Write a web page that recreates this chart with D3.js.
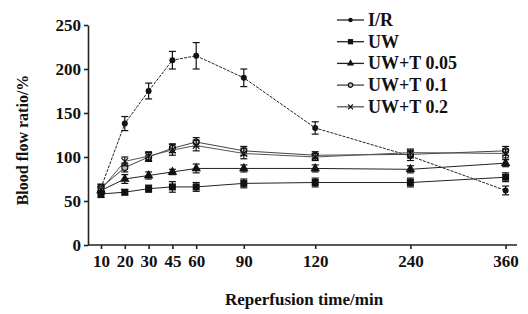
<!DOCTYPE html>
<html>
<head>
<meta charset="utf-8">
<script src="https://cdn.jsdelivr.net/npm/d3@7"></script>
<style>
  body { margin: 0; background: #fff; }
  svg { display: block; }
  text { font-family: "Liberation Serif", "Times New Roman", serif; font-weight: bold; fill: #111; }
</style>
</head>
<body>
<div id="chart-area"></div>
<script>
// Datos
var times = [10, 20, 30, 45, 60, 90, 120, 240, 360];
// posición relativa de cada tiempo en el eje (el eje no es lineal)
var slots = [0, 1, 2, 3, 4, 6, 9, 13, 17];
var yTicks = [0, 50, 100, 150, 200, 250];

var seriesNames = ["I/R", "UW", "UW+T 0.05", "UW+T 0.1", "UW+T 0.2"];
var irValues  = [65, 138, 175, 210, 215, 190, 133, 101, 62];
var irErr     = [4, 8, 9, 10, 15, 10, 7, 5, 5];
var uwValues  = [58, 60, 64, 66, 66, 70, 71, 71, 77];
var uwErr     = [4, 3, 4, 6, 5, 5, 5, 5, 5];
var t05Values = [62, 75, 79, 83, 87, 87, 87, 86, 93];
var t05Err    = [4, 5, 4, 3, 5, 4, 4, 4, 4];
var t01Values = [65, 88, 100, 110, 117, 107, 102, 103, 107];
var t01Err    = [4, 5, 5, 5, 5, 5, 4, 4, 5];
var t02Values = [63, 95, 101, 108, 113, 104, 100, 105, 104];
var t02Err    = [4, 5, 5, 6, 6, 6, 4, 4, 5];

var W = 528, H = 314;
var x0 = 101, unit = 23.8;

var svg = d3.select("#chart-area").append("svg")
    .attr("width", W).attr("height", H);

// Escala x por tramos
var x = d3.scaleLinear()
    .domain(times)
    .range(slots.map(function(s) { return x0 + s * unit; }));

var y = d3.scaleLinear().domain([0, 250]).range([245, 25]);

// Eje Y
var gy = svg.append("g")
    .attr("transform", "translate(88,0)")
    .call(d3.axisLeft(y).tickValues(yTicks).tickSize(4).tickSizeOuter(0).tickPadding(3));
gy.selectAll("text").style("font-size", "17px");

// Eje X
var gx = svg.append("g")
    .attr("transform", "translate(0,245)")
    .call(d3.axisBottom(x).tickValues(times).tickSize(4).tickSizeOuter(0).tickPadding(6)
        .tickFormat(d3.format("d")));
gx.select(".domain").remove();
gx.append("line").attr("x1", 88).attr("x2", 517).attr("stroke", "#222").attr("stroke-width", 1.6);
gx.selectAll("text").style("font-size", "17px");

svg.selectAll(".domain, .tick line").attr("stroke", "#222").attr("stroke-width", 1.6);

// Títulos de ejes
svg.append("text")
    .attr("x", 304).attr("y", 305)
    .attr("text-anchor", "middle")
    .style("font-size", "17px")
    .text("Reperfusion time/min");

svg.append("text")
    .attr("transform", "translate(28,140) rotate(-90)")
    .attr("text-anchor", "middle")
    .style("font-size", "16px")
    .text("Blood flow ratio/%");

var series = [
  { name: seriesNames[0], values: irValues,  err: irErr,  marker: "dot",      color: "#222", dash: "3,1.2" },
  { name: seriesNames[1], values: uwValues,  err: uwErr,  marker: "square",   color: "#222", dash: null },
  { name: seriesNames[2], values: t05Values, err: t05Err, marker: "triangle", color: "#222", dash: null },
  { name: seriesNames[3], values: t01Values, err: t01Err, marker: "open",     color: "#444", dash: null },
  { name: seriesNames[4], values: t02Values, err: t02Err, marker: "cross",    color: "#555", dash: null }
];

function drawMarker(g, type, cx, cy, size) {
  var s = size || 1;
  if (type === "dot") {
    g.append("circle").attr("cx", cx).attr("cy", cy).attr("r", 3 * s).attr("fill", "#111");
  } else if (type === "square") {
    g.append("rect").attr("x", cx - 3.5 * s).attr("y", cy - 3.5 * s)
      .attr("width", 7 * s).attr("height", 7 * s).attr("fill", "#111");
  } else if (type === "triangle") {
    g.append("path")
      .attr("d", d3.symbol().type(d3.symbolTriangle).size(40 * s * s))
      .attr("transform", "translate(" + cx + "," + cy + ")")
      .attr("fill", "#111");
  } else if (type === "open") {
    g.append("circle").attr("cx", cx).attr("cy", cy).attr("r", 3 * s)
      .attr("fill", "#bbb").attr("stroke", "#111").attr("stroke-width", 1.2);
  } else if (type === "cross") {
    g.append("path")
      .attr("d", d3.symbol().type(d3.symbolTimes).size(30 * s * s))
      .attr("transform", "translate(" + cx + "," + cy + ")")
      .attr("fill", "none").attr("stroke", "#111").attr("stroke-width", 1.2);
  }
}

var line = d3.line()
    .x(function(d) { return x(d.t); })
    .y(function(d) { return y(d.v); });

series.forEach(function(s) {
  var pts = times.map(function(t, i) { return { t: t, v: s.values[i], e: s.err[i] }; });
  var g = svg.append("g");

  g.append("path")
    .datum(pts)
    .attr("d", line)
    .attr("fill", "none")
    .attr("stroke", s.color)
    .attr("stroke-width", 1)
    .attr("stroke-dasharray", s.dash);

  // Barras de error
  pts.forEach(function(p) {
    var cx = x(p.t);
    g.append("line").attr("x1", cx).attr("x2", cx)
      .attr("y1", y(p.v - p.e)).attr("y2", y(p.v + p.e))
      .attr("stroke", "#111").attr("stroke-width", 1.2);
    [p.v - p.e, p.v + p.e].forEach(function(v) {
      g.append("line").attr("x1", cx - 3.5).attr("x2", cx + 3.5)
        .attr("y1", y(v)).attr("y2", y(v))
        .attr("stroke", "#111").attr("stroke-width", 1.2);
    });
    drawMarker(g, s.marker, cx, y(p.v));
  });
});

// Leyenda
var legend = svg.append("g").attr("transform", "translate(337,20)");
series.forEach(function(s, i) {
  var row = legend.append("g").attr("transform", "translate(0," + (i * 21.7) + ")");
  row.append("line").attr("x1", 0).attr("x2", 27).attr("y1", 0).attr("y2", 0)
    .attr("stroke", s.color).attr("stroke-width", 1.3);
  drawMarker(row, s.marker, 13.5, 0, 0.75);
  row.append("text").attr("x", 31).attr("y", 6)
    .style("font-size", "18px")
    .text(s.name);
});
</script>
</body>
</html>
